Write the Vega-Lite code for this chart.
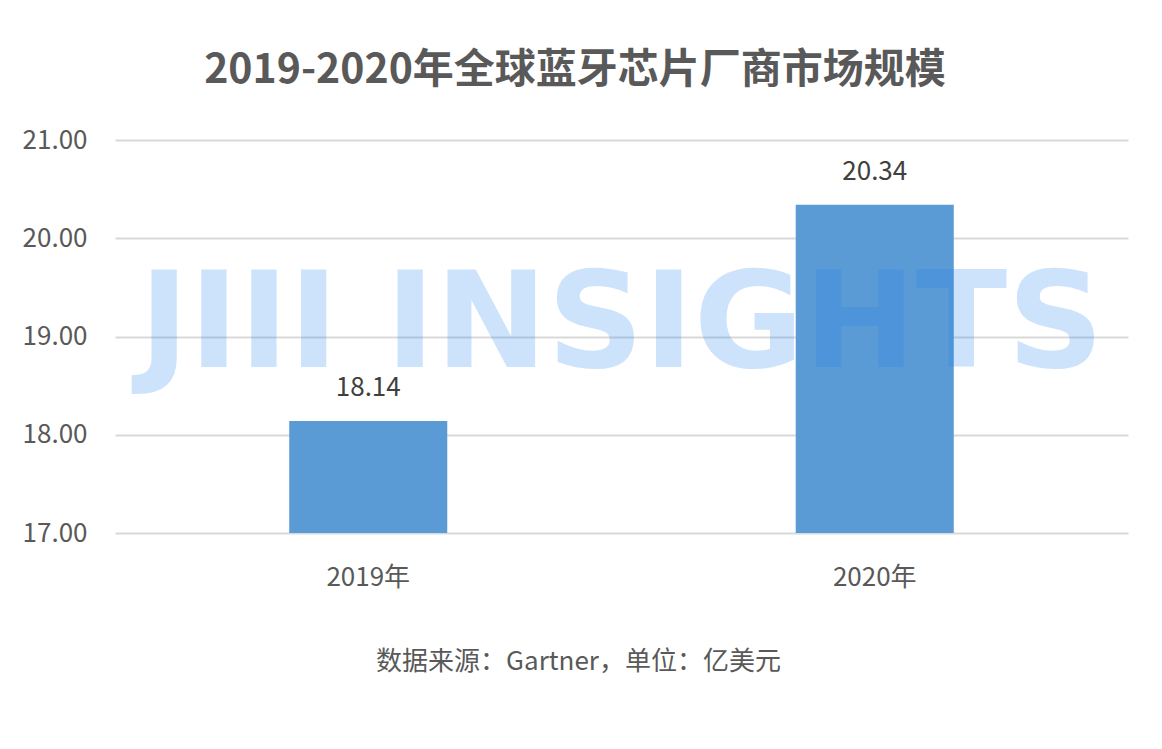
{
  "$schema": "https://vega.github.io/schema/vega-lite/v6.json",
  "width": 1013,
  "height": 393,
  "autosize": "none",
  "padding": {"left": 115, "top": 140, "right": 34, "bottom": 216},
  "background": "white",
  "config": {
    "font": "Noto Sans CJK SC",
    "view": {"stroke": null}
  },
  "title": {
    "text": "2019-2020年全球蓝牙芯片厂商市场规模",
    "anchor": "middle",
    "frame": "bounds",
    "fontSize": 41,
    "fontWeight": "bold",
    "color": "#595959",
    "offset": 35
  },
  "data": {
    "values": [
      {"year": "2019年", "value": 18.14},
      {"year": "2020年", "value": 20.34}
    ]
  },
  "layer": [
    {
      "mark": {"type": "bar", "color": "#5B9BD5"},
      "encoding": {
        "x": {
          "field": "year",
          "type": "nominal",
          "sort": null,
          "scale": {"paddingInner": 0.688, "paddingOuter": 0.344},
          "axis": {
            "title": "数据来源：Gartner，单位：亿美元",
            "titleFontSize": 26,
            "titleFontWeight": "normal",
            "titleColor": "#595959",
            "titlePadding": 58,
            "titleX": 463,
            "labelAngle": 0,
            "labelFontSize": 26,
            "labelColor": "#595959",
            "labelPadding": 31,
            "ticks": false,
            "domain": false
          }
        },
        "y": {
          "field": "value",
          "type": "quantitative",
          "scale": {"domain": [17, 21], "zero": false, "nice": false},
          "axis": {
            "title": null,
            "values": [17, 18, 19, 20, 21],
            "format": ".2f",
            "labelFontSize": 26,
            "labelColor": "#595959",
            "labelPadding": 28,
            "ticks": false,
            "domain": false,
            "gridColor": "#d9d9d9",
            "gridWidth": 2
          }
        },
        "y2": {"datum": 17}
      }
    },
    {
      "data": {"values": [{"mark": "JIII INSIGHTS"}]},
      "mark": {
        "type": "text",
        "font": "DejaVu Sans",
        "fontWeight": "bold",
        "fontSize": 134,
        "color": "#1f7ff0",
        "opacity": 0.22,
        "baseline": "middle",
        "align": "center"
      },
      "encoding": {
        "y": {"datum": 19.1, "type": "quantitative"},
        "text": {"field": "mark"}
      }
    },
    {
      "mark": {
        "type": "text",
        "fontSize": 26,
        "color": "#404040",
        "baseline": "alphabetic",
        "dy": -25
      },
      "encoding": {
        "x": {"field": "year", "type": "nominal", "sort": null},
        "y": {"field": "value", "type": "quantitative"},
        "text": {"field": "value", "type": "quantitative", "format": ".2f"}
      }
    }
  ]
}
